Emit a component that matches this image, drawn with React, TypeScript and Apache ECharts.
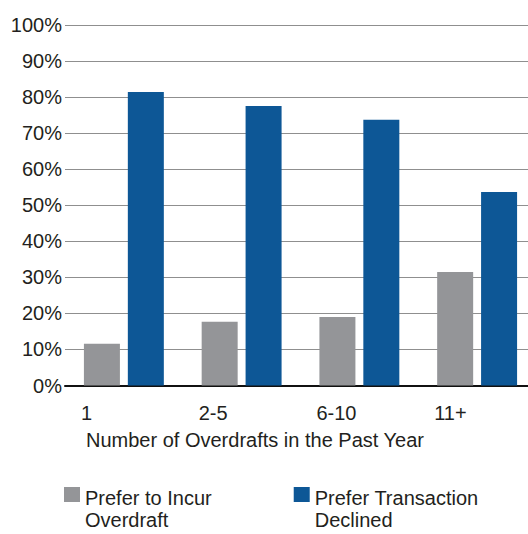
import React, { useEffect, useRef } from "react";
import * as echarts from "echarts";

const categories = ["1", "2-5", "6-10", "11+"];
const incurOverdraft = [11.6, 17.7, 19.0, 31.5];
const transactionDeclined = [81.4, 77.5, 73.7, 53.7];
const seriesNames = ["Prefer to Incur\nOverdraft", "Prefer Transaction\nDeclined"];
const xAxisTitle = "Number of Overdrafts in the Past Year";

const FONT = "'Liberation Sans', Arial, sans-serif";
const TEXT = "#231f20";
const GRAY = "#949598";
const BLUE = "#0d5796";

export default function App() {
  const ref = useRef<HTMLDivElement>(null);
  useEffect(() => {
    document.body.style.margin = "0";
    if (!ref.current) return;
    const chart = echarts.init(ref.current, undefined, { renderer: "svg" });
    chart.setOption({
      animation: false,
      grid: {
        left: 65,
        top: 25,
        width: 471,
        height: 360.5,
        outerBoundsMode: "none",
        containLabel: false,
      },
      legend: {
        left: 64,
        top: 472,
        padding: 0,
        itemWidth: 16,
        itemHeight: 15,
        itemGap: 82,
        icon: "rect",
        data: seriesNames,
        formatter: (name: string) =>
          "{p| }\n" + name.split("\n").map((l) => "{a|" + l + "}").join("\n"),
        textStyle: {
          fontFamily: FONT,
          fontSize: 20,
          color: TEXT,
          rich: {
            p: { fontSize: 1, lineHeight: 29 },
            a: { fontFamily: FONT, fontSize: 20, lineHeight: 22, color: TEXT },
          },
        },
      },
      xAxis: {
        type: "category",
        data: categories,
        axisLine: { show: true, lineStyle: { color: "#111", width: 2 } },
        axisTick: { show: false },
        axisLabel: {
          fontFamily: FONT,
          fontSize: 20,
          color: TEXT,
          align: "left",
          margin: 17,
          padding: [0, 0, 0, -43],
        },
      },
      yAxis: {
        type: "value",
        min: 0,
        max: 100,
        interval: 10,
        axisLine: { show: false },
        axisTick: { show: false },
        splitLine: { lineStyle: { color: "#8f8f8f", width: 1 } },
        axisLabel: {
          formatter: "{value}%",
          fontFamily: FONT,
          fontSize: 20,
          color: TEXT,
          margin: 3,
          padding: [0, 0, 14, 0],
        },
      },
      series: [
        {
          name: seriesNames[0],
          type: "bar",
          data: incurOverdraft,
          barWidth: 36,
          barGap: "22%",
          itemStyle: { color: GRAY },
        },
        {
          name: seriesNames[1],
          type: "bar",
          data: transactionDeclined,
          barWidth: 36,
          barGap: "22%",
          itemStyle: { color: BLUE },
        },
      ],
      graphic: [
        {
          type: "text",
          left: 86,
          top: 430,
          style: {
            text: xAxisTitle,
            fontFamily: FONT,
            fontSize: 20,
            fill: TEXT,
          },
        },
      ],
    });
    return () => chart.dispose();
  }, []);
  return <div ref={ref} style={{ width: 528, height: 534 }} />;
}
